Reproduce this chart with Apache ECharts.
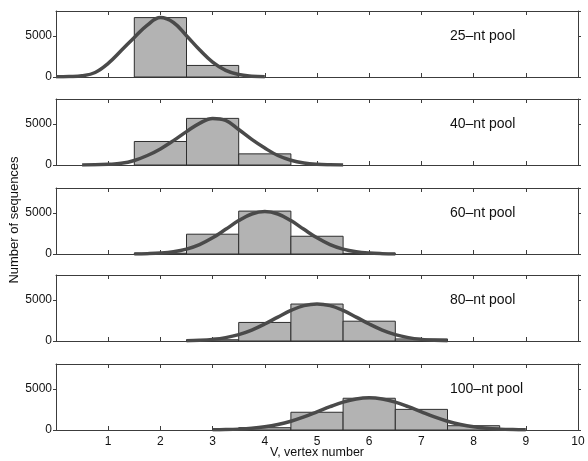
<!DOCTYPE html>
<html>
<head>
<meta charset="utf-8">
<script src="https://cdn.jsdelivr.net/npm/echarts@6/dist/echarts.min.js"></script>
<style>
  html, body { margin: 0; padding: 0; background: #fff; }
  #chart { width: 588px; height: 461px; }
</style>
</head>
<body>
<div id="chart"></div>
<script>
// histogram bins: vertex number V = 1..9
const binCenters = [1, 2, 3, 4, 5, 6, 7, 8, 9]
const poolNames = ['25–nt pool', '40–nt pool', '60–nt pool', '80–nt pool', '100–nt pool']

// counts per bin
const bars25 = [0, 7200, 1400, 0, 0, 0, 0, 0, 0]
const bars40 = [0, 2850, 5650, 1350, 0, 0, 0, 0, 0]
const bars60 = [0, 100, 2400, 5200, 2150, 80, 0, 0, 0]
const bars80 = [0, 0, 150, 2250, 4480, 2400, 250, 0, 0]
const bars100 = [0, 0, 0, 280, 2150, 3850, 2500, 520, 0]

// fitted curves, sampled every 0.25
const fitX25 = [0, 0.25, 0.5, 0.75, 1, 1.25, 1.5, 1.75, 2, 2.25, 2.5, 2.75, 3, 3.25, 3.5, 3.75, 4]
const fitY25 = [20, 50, 150, 550, 1650, 3200, 4800, 6300, 7200, 6600, 5000, 3300, 1800, 800, 300, 100, 30]
const fitX40 = [0.5, 0.75, 1, 1.25, 1.5, 1.75, 2, 2.25, 2.5, 2.75, 3, 3.25, 3.5, 3.75, 4, 4.25, 4.5, 4.75, 5, 5.25, 5.5]
const fitY40 = [10, 20, 80, 200, 550, 1150, 1950, 2950, 4050, 5050, 5650, 5400, 4300, 3100, 2050, 1150, 580, 250, 90, 30, 10]
const fitX60 = [1.5, 1.75, 2, 2.25, 2.5, 2.75, 3, 3.25, 3.5, 3.75, 4, 4.25, 4.5, 4.75, 5, 5.25, 5.5, 5.75, 6, 6.25, 6.5]
const fitY60 = [13, 39, 108, 270, 590, 1140, 1960, 2990, 4050, 4850, 5150, 4850, 4050, 2990, 1960, 1140, 590, 270, 108, 39, 13]
const fitX80 = [2.5, 2.75, 3, 3.25, 3.5, 3.75, 4, 4.25, 4.5, 4.75, 5, 5.25, 5.5, 5.75, 6, 6.25, 6.5, 6.75, 7, 7.25, 7.5]
const fitY80 = [34, 86, 198, 410, 775, 1330, 2060, 2900, 3700, 4290, 4500, 4290, 3700, 2900, 2060, 1330, 775, 410, 198, 86, 34]
const fitX100 = [3, 3.25, 3.5, 3.75, 4, 4.25, 4.5, 4.75, 5, 5.25, 5.5, 5.75, 6, 6.25, 6.5, 6.75, 7, 7.25, 7.5, 7.75, 8, 8.25, 8.5, 8.75, 9]
const fitY100 = [21, 49, 106, 209, 386, 665, 1060, 1580, 2190, 2820, 3380, 3760, 3900, 3760, 3380, 2820, 2190, 1580, 1060, 665, 386, 209, 106, 49, 21]

const xTicks = [0, 10, 1]        // min, max, step
const yTicks = [0, 8000, 5000]   // min, max, step

const allBars = [bars25, bars40, bars60, bars80, bars100]
const allFitX = [fitX25, fitX40, fitX60, fitX80, fitX100]
const allFitY = [fitY25, fitY40, fitY60, fitY80, fitY100]

const font = '"Liberation Sans", Arial, sans-serif'
const axisColor = '#3c3c3c'
const panelTops = [11, 99, 188, 275, 364]
const panelHeight = 66

const chart = echarts.init(document.getElementById('chart'))

const grids = [], xAxes = [], yAxes = [], series = [], texts = []

panelTops.forEach((top, i) => {
    const last = i === panelTops.length - 1
    grids.push({left: 56, right: 10, top: top, height: panelHeight, outerBoundsMode: 'none'})
    // bottom axis
    xAxes.push({
        type: 'value', gridIndex: i, min: xTicks[0], max: xTicks[1], interval: xTicks[2],
        position: 'bottom',
        axisLine: {show: true, onZero: false, lineStyle: {color: axisColor, width: 1}},
        axisTick: {show: true, inside: true, length: 4, lineStyle: {color: axisColor}},
        axisLabel: {show: last, showMinLabel: false, color: '#111', fontSize: 12, fontFamily: font, margin: 6},
        splitLine: {show: false}
    })
    // top axis (frame)
    xAxes.push({
        type: 'value', gridIndex: i, min: xTicks[0], max: xTicks[1], interval: xTicks[2],
        position: 'top',
        axisLine: {show: true, onZero: false, lineStyle: {color: axisColor, width: 1}},
        axisTick: {show: true, inside: true, length: 4, lineStyle: {color: axisColor}},
        axisLabel: {show: false},
        splitLine: {show: false}
    })
    yAxes.push({
        type: 'value', gridIndex: i, min: yTicks[0], max: yTicks[1], interval: yTicks[2],
        position: 'left',
        axisLine: {show: true, onZero: false, lineStyle: {color: axisColor, width: 1}},
        axisTick: {show: true, inside: false, length: 3, lineStyle: {color: axisColor}},
        axisLabel: {showMaxLabel: false, color: '#111', fontSize: 12, fontFamily: font, margin: 4,
            formatter: v => String(v)},
        splitLine: {show: false}
    })
    yAxes.push({
        type: 'value', gridIndex: i, min: yTicks[0], max: yTicks[1], interval: yTicks[2],
        position: 'right',
        axisLine: {show: true, onZero: false, lineStyle: {color: axisColor, width: 1}},
        axisTick: {show: true, inside: false, length: 3, lineStyle: {color: axisColor}},
        axisLabel: {show: false},
        splitLine: {show: false}
    })

    // histogram
    series.push({
        type: 'custom',
        xAxisIndex: 2 * i, yAxisIndex: 2 * i,
        data: binCenters.map((c, k) => [c, allBars[i][k]]),
        renderItem: (params, api) => {
            const c = api.value(0), v = api.value(1)
            if (!v) return null
            const p0 = api.coord([c - 0.5, v])
            const p1 = api.coord([c + 0.5, 0])
            return {
                type: 'rect',
                shape: {x: p0[0], y: p0[1], width: p1[0] - p0[0], height: p1[1] - p0[1]},
                style: {fill: '#b3b3b3', stroke: '#2e2e2e', lineWidth: 1}
            }
        },
        z: 2
    })
    // fitted curve
    series.push({
        type: 'line',
        xAxisIndex: 2 * i, yAxisIndex: 2 * i,
        data: allFitX[i].map((x, k) => [x, allFitY[i][k]]),
        smooth: 0.4,
        symbol: 'none',
        lineStyle: {color: '#4a4a4a', width: 3.5},
        z: 3
    })

    texts.push({
        type: 'text', left: 450, top: top + 18,
        style: {text: poolNames[i], fill: '#111', font: '14px ' + font}
    })
})

// axis titles shared by all panels
texts.push({
    type: 'text', x: 14, y: 220, rotation: Math.PI / 2,
    style: {text: 'Number of sequences', fill: '#111', font: '13px ' + font,
        align: 'center', verticalAlign: 'middle'}
})
texts.push({
    type: 'text', x: 317, y: 453,
    style: {text: 'V, vertex number', fill: '#111', font: '12.5px ' + font,
        align: 'center', verticalAlign: 'middle'}
})

const option = {
    backgroundColor: '#fff',
    animation: false,
    grid: grids,
    xAxis: xAxes,
    yAxis: yAxes,
    series: series,
    graphic: texts
}
chart.setOption(option)
</script>
</body>
</html>
